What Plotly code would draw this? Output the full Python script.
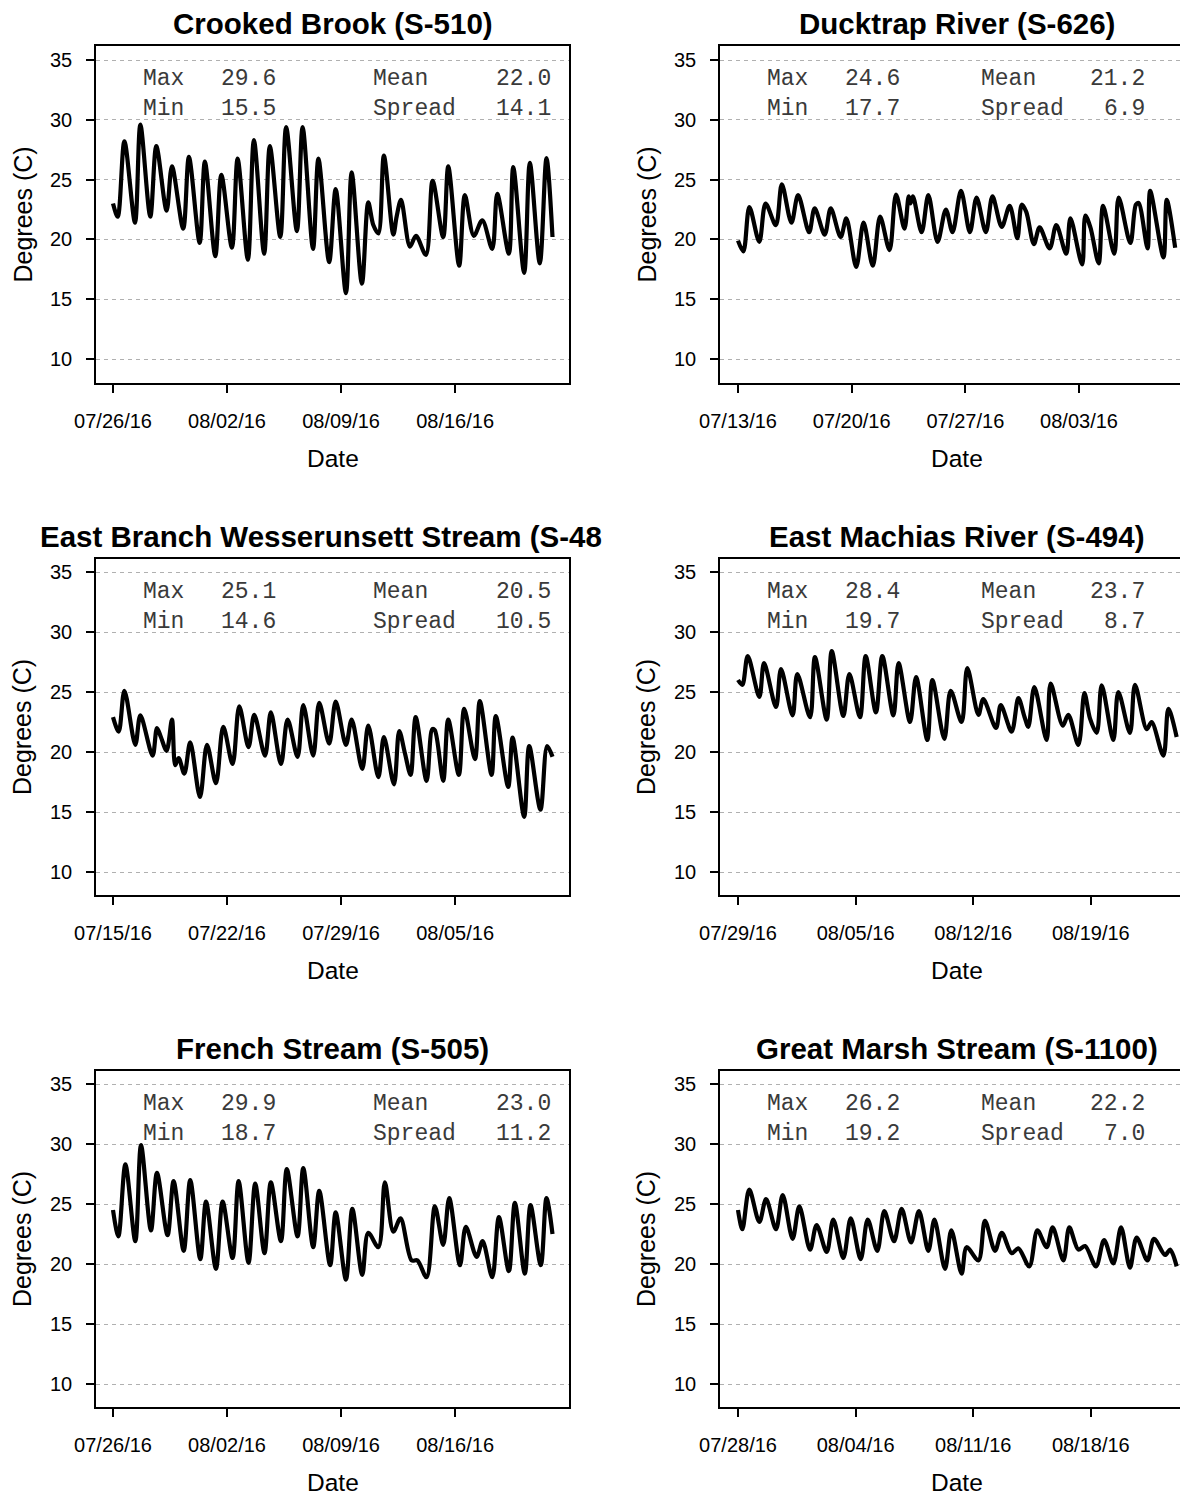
import plotly.graph_objects as go
import pandas as pd

# ---------------- DATA ----------------
titles = ["Crooked Brook (S-510)", "Ducktrap River (S-626)",
          "East Branch Wesserunsett Stream (S-48", "East Machias River (S-494)",
          "French Stream (S-505)", "Great Marsh Stream (S-1100)"]
starts = ["2016-07-26", "2016-07-13", "2016-07-15", "2016-07-29", "2016-07-26", "2016-07-28"]
stat_max = [29.6, 24.6, 25.1, 28.4, 29.9, 26.2]
stat_min = [15.5, 17.7, 14.6, 19.7, 18.7, 19.2]
stat_mean = [22.0, 21.2, 20.5, 23.7, 23.0, 22.2]
stat_spread = [14.1, 6.9, 10.5, 8.7, 11.2, 7.0]

# elapsed days since start / water temperature (deg C) at turning points
cb_day = [0, 0.29, 0.70, 1.35, 1.68, 2.29, 2.66, 3.29, 3.62, 4.31, 4.66, 5.32, 5.64, 6.28, 6.65,
          7.30, 7.65, 8.28, 8.65, 9.28, 9.63, 10.27, 10.63, 11.29, 11.64, 12.28, 12.61, 13.27,
          13.67, 14.30, 14.65, 15.28, 15.67, 15.98, 16.29, 16.63, 17.21, 17.41, 17.68, 18.23,
          18.60, 19.21, 19.62, 20.27, 20.58, 21.25, 21.60, 22.15, 22.67, 23.28, 23.59, 24.30,
          24.57, 25.24, 25.59, 26.20, 26.61, 26.98]
cb_temp = [23.0, 21.9, 28.2, 21.4, 29.6, 21.9, 27.8, 22.4, 26.1, 20.9, 26.9, 19.7, 26.5, 18.6, 25.4,
           19.3, 26.75, 18.3, 28.3, 18.8, 27.8, 20.2, 29.4, 20.7, 29.4, 19.2, 26.75, 18.1,
           24.2, 15.5, 25.6, 16.3, 23.1, 21.2, 20.5, 27.0, 20.4, 21.9, 23.3, 19.4,
           20.3, 18.7, 24.9, 20.2, 26.1, 17.8, 23.7, 20.3, 21.6, 19.2, 23.8, 18.8,
           26.05, 17.2, 26.4, 18.0, 26.8, 20.2]

dr_day = [0, 0.33, 0.70, 1.31, 1.70, 2.33, 2.70, 3.29, 3.70, 4.38, 4.72, 5.34, 5.71, 6.32, 6.67,
          7.28, 7.73, 8.30, 8.75, 9.33, 9.73, 10.25, 10.51, 10.62, 10.77, 11.31, 11.72, 12.29,
          12.80, 13.21, 13.73, 14.28, 14.69, 15.26, 15.67, 16.24, 16.73, 17.20, 17.47, 17.75,
          18.22, 18.57, 19.19, 19.60, 20.21, 20.47, 21.19, 21.39, 21.70, 22.21, 22.48, 23.17,
          23.44, 24.16, 24.50, 24.67, 25.22, 25.38, 26.20, 26.40, 26.92]
dr_temp = [19.9, 19.0, 22.7, 19.8, 23.0, 21.2, 24.6, 21.4, 23.7, 20.6, 22.6, 20.4, 22.6, 20.2, 21.75,
           17.7, 21.4, 17.8, 21.9, 19.1, 23.75, 20.9, 23.6, 23.0, 23.6, 20.6, 23.7, 19.8,
           22.5, 20.6, 24.05, 20.6, 23.5, 20.6, 23.6, 21.05, 22.8, 20.1, 22.9, 22.3,
           19.6, 21.0, 19.25, 21.2, 18.8, 21.75, 17.9, 22.0, 21.0, 18.0, 22.8, 18.8,
           23.5, 19.7, 22.9, 23.05, 19.25, 24.05, 18.5, 23.3, 19.3]

ew_day = [0, 0.35, 0.70, 1.37, 1.68, 2.43, 2.70, 2.94, 3.29, 3.62, 3.82, 4.03, 4.38, 4.74, 5.34,
          5.77, 6.32, 6.77, 7.34, 7.75, 8.32, 8.67, 9.33, 9.69, 10.31, 10.72, 11.33, 11.68,
          12.29, 12.66, 13.27, 13.67, 14.30, 14.65, 15.30, 15.67, 16.29, 16.63, 17.25, 17.57,
          17.92, 18.27, 18.58, 19.25, 19.60, 19.76, 20.27, 20.58, 21.23, 21.56, 22.22, 22.52,
          23.24, 23.50, 24.26, 24.53, 25.24, 25.55, 26.24, 26.65, 26.98]
ew_temp = [22.9, 21.7, 25.1, 20.6, 23.05, 19.7, 22.0, 21.25, 20.1, 22.7, 18.9, 19.5, 18.2, 20.8, 16.25,
           20.6, 17.4, 22.1, 19.0, 23.8, 20.4, 23.1, 19.7, 23.3, 19.0, 22.7, 19.6, 23.9,
           19.7, 24.1, 20.7, 24.2, 20.6, 22.7, 18.6, 22.2, 17.9, 21.25, 17.3, 21.75,
           19.9, 18.1, 22.9, 17.6, 21.9, 21.8, 17.6, 22.7, 18.1, 23.6, 19.4, 24.25,
           18.1, 23.0, 17.1, 21.2, 14.6, 20.5, 15.2, 20.5, 19.6]

em_day = [0, 0.26, 0.58, 1.27, 1.55, 2.26, 2.56, 3.25, 3.53, 4.29, 4.58, 5.28, 5.58, 6.27, 6.63,
          7.26, 7.60, 8.21, 8.59, 9.25, 9.56, 10.24, 10.60, 11.27, 11.57, 12.28, 12.66, 13.31,
          13.65, 14.31, 14.60, 15.36, 15.64, 16.29, 16.69, 17.06, 17.28, 17.64, 18.37, 18.61,
          19.33, 19.66, 20.26, 20.62, 20.95, 21.35, 21.65, 22.34, 22.64, 23.33, 23.63, 24.33,
          24.62, 25.32, 25.62, 26.11]
em_temp = [26.0, 25.6, 28.0, 24.6, 27.4, 23.75, 26.9, 23.05, 26.5, 22.9, 27.9, 22.7, 28.4, 23.0, 26.5,
           22.9, 28.0, 23.3, 28.0, 23.05, 27.4, 22.5, 26.25, 21.0, 26.0, 21.1, 25.1, 22.5,
           27.0, 23.1, 24.4, 22.0, 23.9, 21.7, 24.5, 22.9, 22.1, 25.4, 21.0, 25.7,
           22.2, 23.1, 20.6, 24.9, 22.8, 21.6, 25.55, 21.0, 25.0, 21.6, 25.6, 21.9,
           22.5, 19.7, 23.6, 21.25]

fs_day = [0, 0.33, 0.76, 1.37, 1.72, 2.33, 2.70, 3.35, 3.72, 4.34, 4.74, 5.36, 5.71, 6.32, 6.73,
          7.34, 7.71, 8.32, 8.73, 9.30, 9.69, 10.31, 10.67, 11.33, 11.68, 12.29, 12.66, 13.33,
          13.67, 14.30, 14.69, 15.30, 15.67, 16.29, 16.69, 17.21, 17.65, 18.33, 18.68, 19.25,
          19.76, 20.27, 20.64, 21.30, 21.66, 22.32, 22.69, 23.28, 23.69, 24.30, 24.67, 25.28,
          25.63, 26.26, 26.61, 26.98]
fs_temp = [24.5, 22.3, 28.3, 21.9, 29.9, 22.8, 27.6, 22.4, 26.9, 21.1, 27.0, 20.4, 25.2, 19.6, 25.2,
           20.5, 26.9, 20.1, 26.7, 20.9, 26.8, 21.9, 27.9, 22.3, 28.0, 21.4, 26.1, 19.9,
           24.3, 18.7, 24.6, 19.1, 22.6, 21.4, 26.8, 22.7, 23.8, 20.3, 20.3, 18.9,
           24.8, 21.6, 25.5, 19.9, 23.1, 20.6, 21.9, 18.9, 23.9, 19.4, 25.1, 19.2,
           24.9, 19.9, 25.5, 22.5]

gm_day = [0, 0.26, 0.67, 1.27, 1.67, 2.26, 2.66, 3.25, 3.65, 4.29, 4.68, 5.28, 5.67, 6.27, 6.71,
          7.30, 7.72, 8.29, 8.71, 9.29, 9.74, 10.30, 10.77, 11.33, 11.69, 12.32, 12.70, 13.31,
          13.61, 14.31, 14.70, 15.30, 15.70, 16.29, 16.69, 17.34, 17.82, 18.37, 18.73, 19.37,
          19.72, 20.26, 20.66, 21.31, 21.79, 22.34, 22.80, 23.33, 23.73, 24.37, 24.76, 25.42,
          25.72, 26.11]
gm_temp = [24.5, 22.9, 26.2, 23.5, 25.4, 22.9, 25.75, 22.1, 24.8, 21.2, 23.25, 21.0, 23.7, 20.5, 23.8,
           20.4, 23.7, 21.1, 24.4, 21.9, 24.6, 21.8, 24.4, 21.1, 23.7, 19.6, 22.8, 19.2,
           21.4, 20.3, 23.6, 21.1, 22.6, 20.9, 21.3, 19.8, 22.8, 21.4, 23.05, 20.3,
           23.05, 21.2, 21.5, 19.8, 22.0, 20.05, 23.05, 19.7, 22.2, 20.3, 22.1, 20.75,
           21.2, 19.8]

y_ticks = [10, 15, 20, 25, 30, 35]
x_tick_days = [0, 7, 14, 21]

series_days = [cb_day, dr_day, ew_day, em_day, fs_day, gm_day]
series_temps = [cb_temp, dr_temp, ew_temp, em_temp, fs_temp, gm_temp]

# ---------------- LAYOUT GEOMETRY (page pixels) ----------------
PAGE_W, PAGE_H = 1188, 1495
OFF = 8                       # default page margin around the plot div
W, H = PAGE_W - OFF, PAGE_H - OFF
col_box = [(96, 569), (720, 1193)]
col_day0 = [113, 738]
px_per_day = [16.29, 16.24, 16.29, 16.8, 16.29, 16.8]
row_box = [(46, 383), (559, 895), (1071, 1407)]
row_y35 = [60, 572, 1084]
row_y10 = [359, 872, 1384]

FONT = "Liberation Sans, Arial, sans-serif"
MONO = "Liberation Mono, Courier New, monospace"


def px(x):
    return (x - OFF) / W


def py(y):
    return 1 - (y - OFF) / H


def note(text, x, y, xanchor="center", size=24, family=FONT, color="black", angle=0):
    return dict(text=text, x=px(x), y=py(y), xref="paper", yref="paper",
                xanchor=xanchor, yanchor="middle", showarrow=False, textangle=angle,
                font=dict(family=family, size=size, color=color))


fig = go.Figure()
annotations = []

for i in range(6):
    r, c = divmod(i, 2)
    n = i + 1
    xa = "x" if n == 1 else f"x{n}"
    ya = "y" if n == 1 else f"y{n}"
    start = pd.Timestamp(starts[i])
    xs = [start + pd.to_timedelta(d, unit="D") for d in series_days[i]]
    fig.add_trace(go.Scatter(x=xs, y=series_temps[i], mode="lines",
                             line=dict(color="black", width=4.2, shape="spline", smoothing=0.9),
                             xaxis=xa, yaxis=ya, showlegend=False, hoverinfo="skip"))

    bx0, bx1 = col_box[c]
    by0, by1 = row_box[r]
    vis_x1 = min(bx1, PAGE_W)
    ppd = px_per_day[i]
    d_lo = (bx0 - col_day0[c]) / ppd
    d_hi = (vis_x1 - col_day0[c]) / ppd
    x_range = [start + pd.to_timedelta(d_lo, unit="D"), start + pd.to_timedelta(d_hi, unit="D")]
    ppdeg = (row_y10[r] - row_y35[r]) / 25.0
    y_range = [10 - (by1 - row_y10[r]) / ppdeg, 35 + (row_y35[r] - by0) / ppdeg]
    tick_dates = [start + pd.Timedelta(days=d) for d in x_tick_days]

    xdom = [px(bx0), min(1.0, px(vis_x1))]
    ydom = [py(by1), py(by0)]
    axis_common = dict(showline=True, linecolor="black", linewidth=1.5, ticks="outside",
                       ticklen=8, tickwidth=1.5, tickcolor="black", zeroline=False,
                       automargin=False,
                       tickfont=dict(family=FONT, size=20, color="black"))
    fig.update_layout(**{
        ("xaxis" if n == 1 else f"xaxis{n}"): dict(
            type="date", domain=xdom, anchor=ya, range=x_range, tickmode="array",
            tickvals=tick_dates, ticktext=[t.strftime("%m/%d/%y") for t in tick_dates],
            showgrid=False, mirror=True, ticklabelstandoff=11, **axis_common),
        ("yaxis" if n == 1 else f"yaxis{n}"): dict(
            domain=ydom, anchor=xa, range=y_range, tickmode="array", tickvals=y_ticks,
            showgrid=True, gridcolor="#b0b0b0", gridwidth=1, griddash="4px,4px",
            mirror=(c == 0), ticklabelstandoff=10, **axis_common),
    })

    cx = (bx0 + bx1) / 2
    # panel title (the long one is clipped on the left panel in the reference)
    if len(titles[i]) > 30:
        annotations.append(note(f"<b>{titles[i]}</b>", 38, by0 - 23, "left", 29.5))
    else:
        annotations.append(note(f"<b>{titles[i]}</b>", cx, by0 - 23, "center", 29.5))
    # axis titles
    annotations.append(note("Date", cx, by1 + 75, "center", 24.5))
    annotations.append(note("Degrees (C)", bx0 - 74, (by0 + by1) / 2, "center", 25, angle=-90))
    # summary statistics
    mean_x = bx0 + (275 if c == 0 else 259)
    mean_vx = bx0 + (457 if c == 0 else 427)
    rows = [("Max", stat_max[i], "Mean", stat_mean[i], by0 + 33),
            ("Min", stat_min[i], "Spread", stat_spread[i], by0 + 63)]
    for l1, v1, l2, v2, yy in rows:
        for txt, xx, anc in [(l1, bx0 + 45, "left"), (f"{v1:.1f}", bx0 + 182, "right"),
                             (l2, mean_x, "left"), (f"{v2:.1f}", mean_vx, "right")]:
            annotations.append(note(txt, xx, yy, anc, 23, MONO, "#3a3a3a"))

fig.update_layout(width=W, height=H,
                  margin=dict(l=0, r=0, t=0, b=0, pad=0, autoexpand=False),
                  paper_bgcolor="white", plot_bgcolor="white", annotations=annotations)

fig.write_html("out.html")
